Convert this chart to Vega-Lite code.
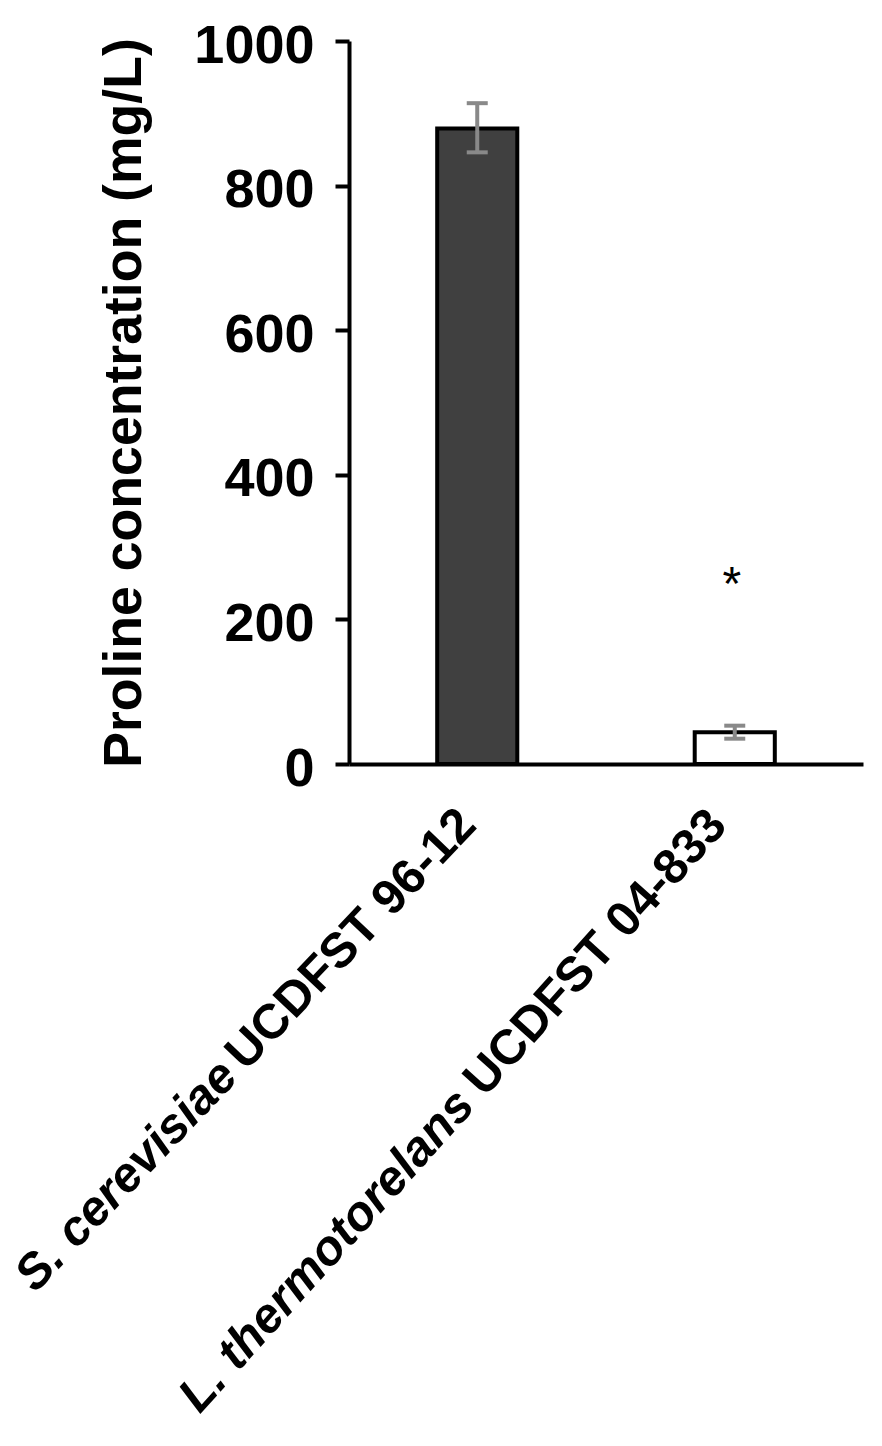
{
  "$schema": "https://vega.github.io/schema/vega-lite/v6.json",
  "width": 514,
  "height": 723,
  "autosize": "none",
  "padding": {"left": 349, "top": 41, "right": 19, "bottom": 682},
  "background": "white",
  "config": {"view": {"stroke": null}, "font": "Liberation Sans"},
  "data": {
    "values": [
      {"strain": "S. cerevisiae UCDFST 96-12", "species": "S. cerevisiae", "code": "UCDFST 96-12", "proline": 879, "lower": 846, "upper": 914, "sig": ""},
      {"strain": "L. thermotorelans UCDFST 04-833", "species": "L. thermotorelans", "code": "UCDFST 04-833", "proline": 44, "lower": 35, "upper": 53, "sig": "*"}
    ]
  },
  "encoding": {
    "x": {
      "field": "strain",
      "type": "nominal",
      "sort": null,
      "scale": {"paddingInner": 0.689, "paddingOuter": 0.3425},
      "axis": {"labels": false, "ticks": false, "title": null, "domainColor": "black", "domainWidth": 4}
    }
  },
  "layer": [
    {
      "mark": {"type": "bar", "stroke": "black", "strokeWidth": 4},
      "encoding": {
        "y": {
          "field": "proline",
          "type": "quantitative",
          "scale": {"domain": [0, 1000]},
          "axis": {
            "title": "Proline concentration (mg/L)",
            "values": [0, 200, 400, 600, 800, 1000],
            "format": "d",
            "grid": false,
            "domainColor": "black",
            "domainWidth": 4,
            "tickColor": "black",
            "tickWidth": 4,
            "tickSize": 14,
            "labelFontSize": 54,
            "labelFontWeight": "bold",
            "labelColor": "black",
            "labelPadding": 21,
            "labelOffset": 5,
            "titleFontSize": 53.6,
            "titleFontWeight": "bold",
            "titleColor": "black",
            "titlePadding": 42
          }
        },
        "color": {"field": "strain", "type": "nominal", "sort": null, "scale": {"range": ["#404040", "#ffffff"]}, "legend": null}
      }
    },
    {
      "mark": {"type": "rule", "color": "#898989", "strokeWidth": 4},
      "encoding": {
        "y": {"field": "lower", "type": "quantitative"},
        "y2": {"field": "upper"}
      }
    },
    {
      "mark": {"type": "tick", "color": "#898989", "size": 21, "thickness": 4, "opacity": 1},
      "encoding": {"y": {"field": "lower", "type": "quantitative"}}
    },
    {
      "mark": {"type": "tick", "color": "#898989", "size": 21, "thickness": 4, "opacity": 1},
      "encoding": {"y": {"field": "upper", "type": "quantitative"}}
    },
    {
      "mark": {"type": "text", "fontSize": 48, "color": "black", "baseline": "alphabetic", "align": "center", "dx": -3, "dy": -126},
      "encoding": {
        "y": {"field": "upper", "type": "quantitative"},
        "text": {"field": "sig"}
      }
    },
    {
      "transform": [{"filter": "datum.code == 'UCDFST 96-12'"}],
      "mark": {"type": "text", "fontSize": 49, "fontWeight": "bold", "color": "black", "align": "right", "baseline": "alphabetic", "angle": 313.5, "dx": -45, "dy": 44.1},
      "encoding": {
        "y": {"datum": 0, "type": "quantitative"},
        "text": {"field": "code"}
      }
    },
    {
      "transform": [{"filter": "datum.code == 'UCDFST 04-833'"}],
      "mark": {"type": "text", "fontSize": 49, "fontWeight": "bold", "color": "black", "align": "right", "baseline": "alphabetic", "angle": 312, "dx": -50.8, "dy": 37.7},
      "encoding": {
        "y": {"datum": 0, "type": "quantitative"},
        "text": {"field": "code"}
      }
    },
    {
      "transform": [{"filter": "datum.code == 'UCDFST 96-12'"}],
      "mark": {"type": "text", "fontSize": 49, "fontWeight": "bold", "fontStyle": "italic", "color": "black", "align": "right", "baseline": "alphabetic", "angle": 313.5, "dx": -391.6, "dy": 44.1},
      "encoding": {
        "y": {"datum": 0, "type": "quantitative"},
        "text": {"field": "species"}
      }
    },
    {
      "transform": [{"filter": "datum.code == 'UCDFST 04-833'"}],
      "mark": {"type": "text", "fontSize": 49, "fontWeight": "bold", "fontStyle": "italic", "color": "black", "align": "right", "baseline": "alphabetic", "angle": 312, "dx": -427.7, "dy": 37.7},
      "encoding": {
        "y": {"datum": 0, "type": "quantitative"},
        "text": {"field": "species"}
      }
    }
  ]
}
